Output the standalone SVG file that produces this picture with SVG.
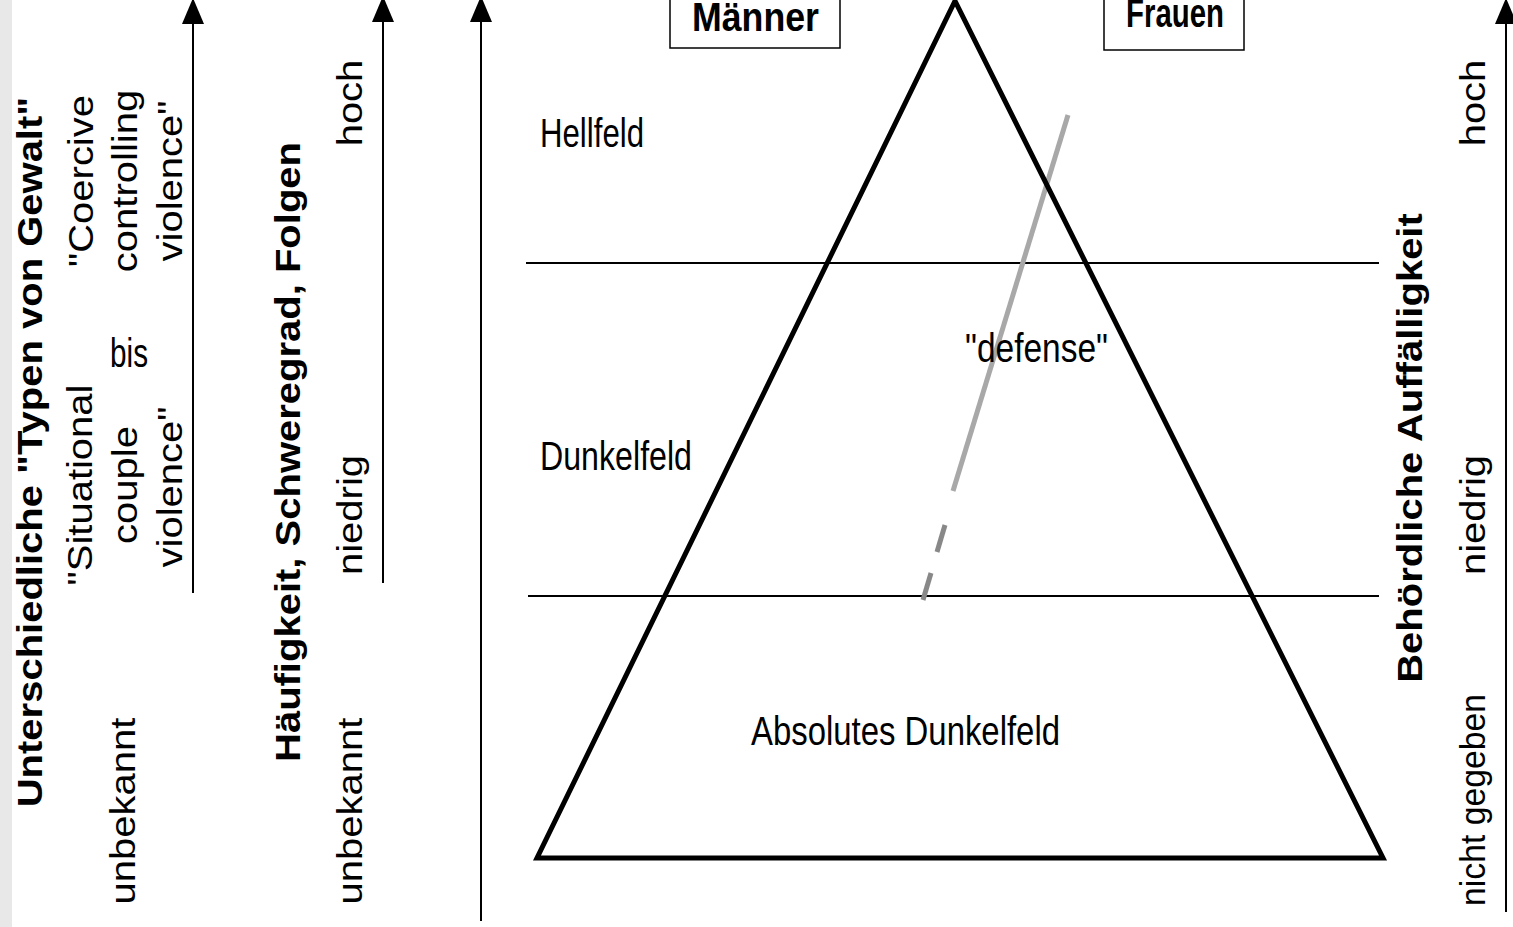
<svg xmlns="http://www.w3.org/2000/svg" width="1513" height="927" viewBox="0 0 1513 927">
<style>
.t{font-family:"Liberation Sans",Arial,sans-serif;font-size:40px;fill:#000}
.b{font-weight:bold}
.m{text-anchor:middle}
.ax{stroke:#000;stroke-width:2;fill:none}
.hl{stroke:#000;stroke-width:2}
.box{fill:#fff;stroke:#000;stroke-width:1.5}
</style>
<defs>
<marker id="up" markerUnits="userSpaceOnUse" markerWidth="26" markerHeight="22" viewBox="0 0 26 22" refX="0" refY="11" orient="auto">
<path d="M0,0 L26,11 L0,22 Z" fill="#000"/>
</marker>
</defs>
<rect x="0" y="0" width="1513" height="927" fill="#fff"/>
<rect id="strip" x="0" y="0" width="12" height="927" fill="#e8e8e8"/>

<g id="connectors">
<line class="ax" x1="193" y1="593" x2="193" y2="24" marker-end="url(#up)"/>
<line class="ax" x1="383" y1="583" x2="383" y2="22" marker-end="url(#up)"/>
<line class="ax" x1="481" y1="921" x2="481" y2="22" marker-end="url(#up)"/>
<line class="ax" x1="1506" y1="912" x2="1506" y2="24" marker-end="url(#up)"/>
<line class="hl" x1="526" y1="263" x2="1379" y2="263"/>
<line class="hl" x1="528" y1="596" x2="1379" y2="596"/>
<line x1="1068" y1="115" x2="953" y2="491" stroke="#a8a8a8" stroke-width="5"/>
<line x1="945" y1="525" x2="937" y2="552" stroke="#888" stroke-width="5"/>
<line x1="931" y1="573" x2="923" y2="600" stroke="#888" stroke-width="5"/>
</g>

<g id="pyramid">
<polygon points="955,1 537,858 1383,858" fill="none" stroke="#000" stroke-width="5" stroke-linejoin="miter"/>
</g>

<g id="maenner">
<rect class="box" x="670" y="-5" width="170" height="53"/>
<text class="t b" x="692" y="31" font-size="39" textLength="127" lengthAdjust="spacingAndGlyphs">Männer</text>
</g>
<g id="frauen">
<rect class="box" x="1104" y="-5" width="140" height="55"/>
<text class="t b" x="1126" y="27" font-size="39" textLength="98" lengthAdjust="spacingAndGlyphs">Frauen</text>
</g>

<g id="zones">
<text class="t" x="540" y="147" font-size="39" textLength="104" lengthAdjust="spacingAndGlyphs">Hellfeld</text>
<text class="t" x="540" y="470" font-size="39" textLength="152" lengthAdjust="spacingAndGlyphs">Dunkelfeld</text>
<text class="t" x="965" y="362" font-size="39" textLength="143" lengthAdjust="spacingAndGlyphs">"defense"</text>
<text class="t" x="751" y="745" font-size="39" textLength="309" lengthAdjust="spacingAndGlyphs">Absolutes Dunkelfeld</text>
</g>

<g id="axis-typen">
<text class="t b m" transform="translate(42,452) scale(0.86,1) rotate(-90)">Unterschiedliche "Typen von Gewalt"</text>
<text class="t m" transform="translate(93,181) scale(0.86,1) rotate(-90)">"Coercive</text>
<text class="t m" transform="translate(137,181) scale(0.86,1) rotate(-90)">controlling</text>
<text class="t m" transform="translate(182,181) scale(0.86,1) rotate(-90)">violence"</text>
<text class="t" x="110" y="367" font-size="39" textLength="38" lengthAdjust="spacingAndGlyphs">bis</text>
<text class="t m" transform="translate(92,485) scale(0.86,1) rotate(-90)">"Situational</text>
<text class="t m" transform="translate(137,485) scale(0.86,1) rotate(-90)">couple</text>
<text class="t m" transform="translate(182,487) scale(0.86,1) rotate(-90)">violence"</text>
<text class="t m" transform="translate(135,811) scale(0.86,1) rotate(-90)">unbekannt</text>
</g>

<g id="axis-haeufigkeit">
<text class="t b m" transform="translate(300,452) scale(0.86,1) rotate(-90)">Häufigkeit, Schweregrad, Folgen</text>
<text class="t m" transform="translate(362,103) scale(0.86,1) rotate(-90)">hoch</text>
<text class="t m" transform="translate(362,515) scale(0.86,1) rotate(-90)">niedrig</text>
<text class="t m" transform="translate(362,811) scale(0.86,1) rotate(-90)">unbekannt</text>
</g>

<g id="axis-behoerde">
<text class="t b m" transform="translate(1422,448) scale(0.86,1) rotate(-90)">Behördliche Auffälligkeit</text>
<text class="t m" transform="translate(1485,103) scale(0.86,1) rotate(-90)">hoch</text>
<text class="t m" transform="translate(1485,515) scale(0.86,1) rotate(-90)">niedrig</text>
<text class="t m" transform="translate(1485,800) scale(0.86,1) rotate(-90)" textLength="212" lengthAdjust="spacingAndGlyphs">nicht gegeben</text>
</g>
</svg>
